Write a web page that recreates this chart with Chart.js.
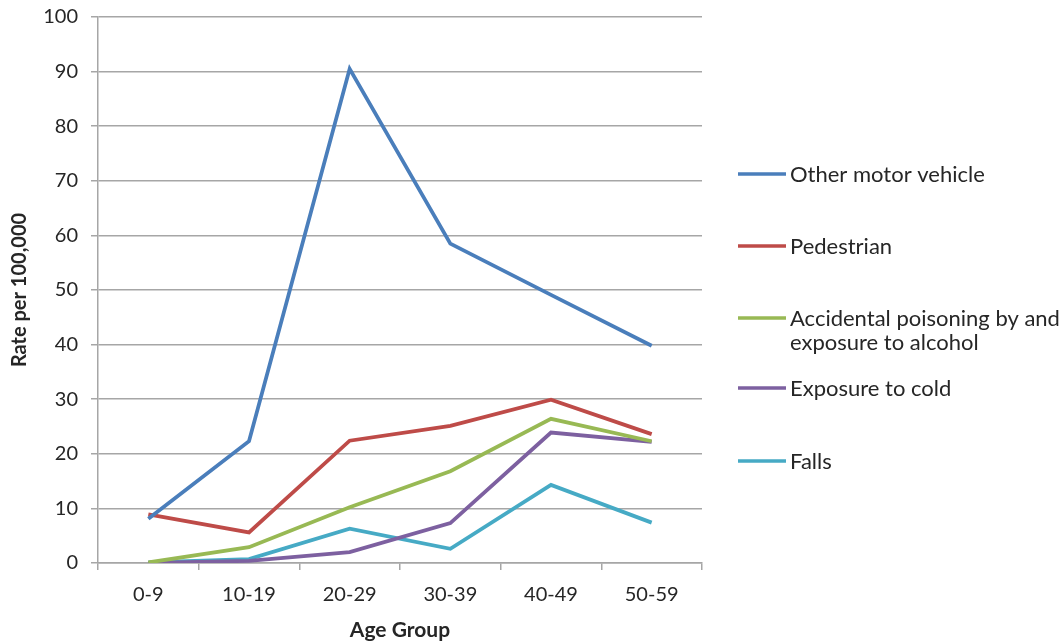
<!DOCTYPE html>
<html>
<head>
<meta charset="utf-8">
<script src="https://cdn.jsdelivr.net/npm/chart.js@4/dist/chart.umd.min.js"></script>
<style>
  html, body { margin: 0; padding: 0; background: #ffffff; }
  #wrap { width: 1063px; height: 643px; position: relative; }
</style>
</head>
<body>
<div id="wrap"><canvas id="c" width="1063" height="643"></canvas></div>
<script>
// Age groups along the horizontal axis
const ageGroups = ['0-9', '10-19', '20-29', '30-39', '40-49', '50-59'];

// Rates per 100,000 for each cause of death
const otherMotorVehicle = [8.1, 22.3, 90.5, 58.5, 49.1, 39.8];
const pedestrian        = [8.9, 5.6, 22.4, 25.1, 29.9, 23.6];
const alcoholPoisoning  = [0.1, 2.9, 10.2, 16.8, 26.4, 22.3];
const exposureToCold    = [0.0, 0.4, 2.0, 7.3, 23.9, 22.2];
const falls             = [0.1, 0.7, 6.3, 2.6, 14.3, 7.4];

// Legend labels (one array of lines per series)
const seriesNames = [
  ['Other motor vehicle'],
  ['Pedestrian'],
  ['Accidental poisoning by and', 'exposure to alcohol'],
  ['Exposure to cold'],
  ['Falls']
];

const FONT = 'Lato, "Open Sans", "Liberation Sans", sans-serif';
const TEXT = '#262626';
const GRID = '#a6a6a6';
const colors = ['#4a7ebb', '#be4b48', '#98b954', '#7d60a0', '#46aac5'];
const seriesData = [otherMotorVehicle, pedestrian, alcoholPoisoning, exposureToCold, falls];

// Legend on the right of the plot, one entry per series
const sideLegend = {
  id: 'sideLegend',
  afterDraw(chart) {
    const ctx = chart.ctx;
    const area = chart.chartArea;
    const x0 = area.right + 36;
    const rowTops = [174, 246, 318, 388, 461];
    ctx.save();
    ctx.font = '22px ' + FONT;
    ctx.fillStyle = TEXT;
    ctx.textBaseline = 'middle';
    ctx.textAlign = 'left';
    seriesNames.forEach((lines, i) => {
      const y = rowTops[i];
      ctx.strokeStyle = colors[i];
      ctx.lineWidth = 3.5;
      ctx.lineCap = 'butt';
      ctx.beginPath();
      ctx.moveTo(x0, y);
      ctx.lineTo(x0 + 48, y);
      ctx.stroke();
      lines.forEach((t, j) => ctx.fillText(t, x0 + 52, y + 1 + j * 24));
    });
    ctx.restore();
  }
};

new Chart(document.getElementById('c'), {
  type: 'line',
  data: {
    labels: ageGroups,
    datasets: seriesData.map((d, i) => ({
      label: seriesNames[i].join(' '),
      data: d,
      borderColor: colors[i],
      backgroundColor: colors[i],
      borderWidth: 3.8,
      pointRadius: 0,
      tension: 0,
      fill: false
    }))
  },
  options: {
    responsive: false,
    animation: false,
    devicePixelRatio: 1,
    layout: { padding: { top: 17, right: 361, left: 0, bottom: 0 } },
    plugins: {
      legend: { display: false },
      tooltip: { enabled: false }
    },
    scales: {
      x: {
        offset: true,
        grid: {
          offset: true,
          drawOnChartArea: false,
          drawTicks: true,
          tickLength: 7,
          color: GRID,
          lineWidth: 1.5
        },
        border: { display: true, color: GRID, width: 1.5 },
        ticks: { color: TEXT, font: { family: FONT, size: 20 }, padding: 13, maxRotation: 0 },
        title: {
          display: true,
          text: 'Age Group',
          color: TEXT,
          font: { family: FONT, size: 21, weight: 'bold' },
          padding: { top: 2, bottom: 0 }
        },
        afterFit(scale) {
          scale.height = 80;
          scale.paddingLeft = 0;
          scale.paddingRight = 0;
        }
      },
      y: {
        min: 0,
        max: 100,
        ticks: { stepSize: 10, color: TEXT, font: { family: FONT, size: 20 }, padding: 13 },
        grid: { color: GRID, lineWidth: 1.5, tickLength: 7, drawTicks: true },
        border: { display: true, color: GRID, width: 1.5 },
        title: {
          display: true,
          text: 'Rate per 100,000',
          color: TEXT,
          font: { family: FONT, size: 20, weight: 'bold' },
          padding: { top: 8, bottom: 0 }
        },
        afterFit(scale) {
          scale.width = 98;
          scale.paddingTop = 0;
          scale.paddingBottom = 0;
        }
      }
    }
  },
  plugins: [sideLegend]
});
</script>
</body>
</html>
